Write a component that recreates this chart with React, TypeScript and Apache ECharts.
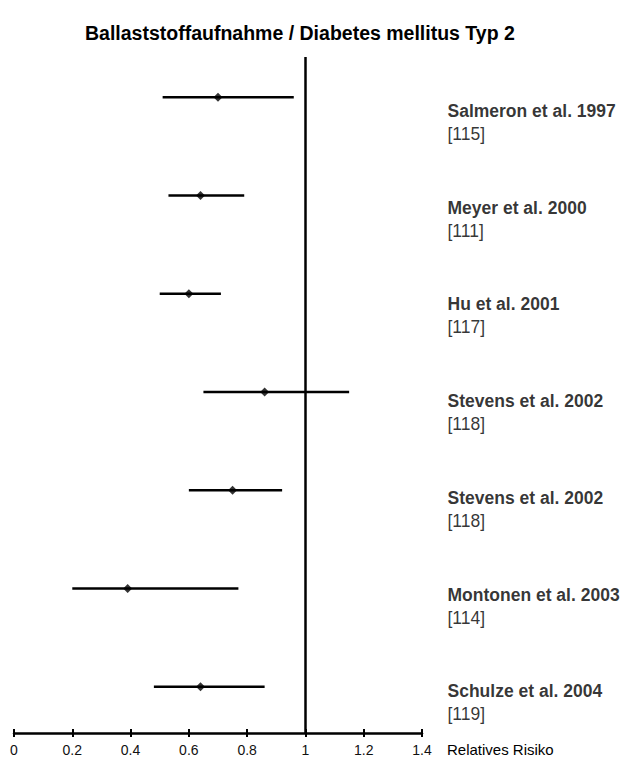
import React, { useEffect, useRef } from 'react';
import * as echarts from 'echarts';

const titleText = 'Ballaststoffaufnahme / Diabetes mellitus Typ 2';
const studies = [
  'Salmeron et al. 1997',
  'Meyer et al. 2000',
  'Hu et al. 2001',
  'Stevens et al. 2002',
  'Stevens et al. 2002',
  'Montonen et al. 2003',
  'Schulze et al. 2004',
];
const refs = ['[115]', '[111]', '[117]', '[118]', '[118]', '[114]', '[119]'];
const rr = [0.7, 0.64, 0.6, 0.86, 0.75, 0.39, 0.64];
const lower = [0.51, 0.53, 0.5, 0.65, 0.6, 0.2, 0.48];
const upper = [0.96, 0.79, 0.71, 1.15, 0.92, 0.77, 0.86];
const xMin = 0;
const xMax = 1.4;
const xStep = 0.2;
const refValue = 1;
const axisName = 'Relatives Risiko';

const FONT = '"Liberation Sans", Arial, Helvetica, sans-serif';

export default function App() {
  const ref = useRef<HTMLDivElement>(null);
  useEffect(() => {
    if (!ref.current) return;
    const chart = echarts.init(ref.current, undefined, { renderer: 'svg' });
    const rows = rr.map((_, i) => i);
    chart.setOption({
      animation: false,
      backgroundColor: '#ffffff',
      textStyle: { fontFamily: FONT },
      title: {
        text: titleText,
        left: 80,
        top: 18,
        textStyle: { fontSize: 19.5, fontWeight: 'bold', color: '#000', fontFamily: FONT },
      },
      grid: { left: 14, right: 203, top: 57, bottom: 27 },
      xAxis: [
        {
          type: 'value',
          min: xMin,
          max: xMax,
          interval: xStep,
          position: 'bottom',
          splitLine: { show: false },
          axisLine: { show: true, onZero: false, lineStyle: { color: '#000', width: 2.5 } },
          axisTick: { show: true, length: 4, lineStyle: { color: '#000', width: 2 } },
          axisLabel: {
            show: true,
            margin: 10,
            fontSize: 14,
            color: '#111',
            fontFamily: FONT,
            formatter: (v: number) => String(Math.round(v * 10) / 10),
          },
        },
        {
          type: 'value',
          min: xMin,
          max: xMax,
          interval: xStep,
          position: 'bottom',
          splitLine: { show: false },
          axisLine: { show: false, onZero: false },
          axisTick: { show: true, inside: true, length: 4, lineStyle: { color: '#000', width: 2 } },
          axisLabel: { show: false },
        },
      ],
      yAxis: [
        {
          type: 'value',
          min: -0.41,
          max: 6.47,
          inverse: true,
          show: false,
        },
        {
          type: 'value',
          min: -0.677,
          max: 6.313,
          inverse: true,
          show: false,
        },
      ],
      graphic: [
        {
          type: 'text',
          left: 447,
          top: 742,
          style: { text: axisName, fontSize: 15, fill: '#000', fontFamily: FONT },
        },
      ],
      series: [
        {
          type: 'custom',
          xAxisIndex: 0,
          yAxisIndex: 0,
          renderItem: (params: any, api: any) => {
            const y = api.value(0);
            const lo = api.coord([api.value(1), y]);
            const hi = api.coord([api.value(2), y]);
            return {
              type: 'line',
              shape: { x1: lo[0], y1: lo[1], x2: hi[0], y2: hi[1] },
              style: { stroke: '#000', lineWidth: 2.5 },
            };
          },
          encode: { x: [1, 2], y: 0 },
          data: rows.map((i) => [i, lower[i], upper[i]]),
          z: 3,
        },
        {
          type: 'scatter',
          xAxisIndex: 0,
          yAxisIndex: 0,
          symbol: 'diamond',
          symbolSize: 9,
          itemStyle: { color: '#000' },
          data: rows.map((i) => [rr[i], i]),
          z: 5,
          markLine: {
            silent: true,
            symbol: 'none',
            label: { show: false },
            lineStyle: { color: '#000', width: 2.5, type: 'solid' },
            data: [{ xAxis: refValue }],
          },
        },
        {
          type: 'scatter',
          xAxisIndex: 0,
          yAxisIndex: 1,
          symbolSize: 1,
          itemStyle: { color: 'rgba(0,0,0,0)' },
          data: rows.map((i) => [xMax, i]),
          label: {
            show: true,
            position: 'right',
            distance: 0,
            offset: [25, 0],
            formatter: (p: any) => `{a|${studies[p.dataIndex]}}\n{b|${refs[p.dataIndex]}}`,
            rich: {
              a: { fontSize: 17.5, fontWeight: 'bold', color: '#000', lineHeight: 23, fontFamily: FONT },
              b: { fontSize: 17.5, color: '#000', lineHeight: 23, fontFamily: FONT },
            },
          },
        },
      ],
    });
    return () => chart.dispose();
  }, []);
  return (
    <div
      ref={ref}
      style={{ position: 'fixed', left: 0, top: 0, width: 625, height: 760 }}
    />
  );
}
